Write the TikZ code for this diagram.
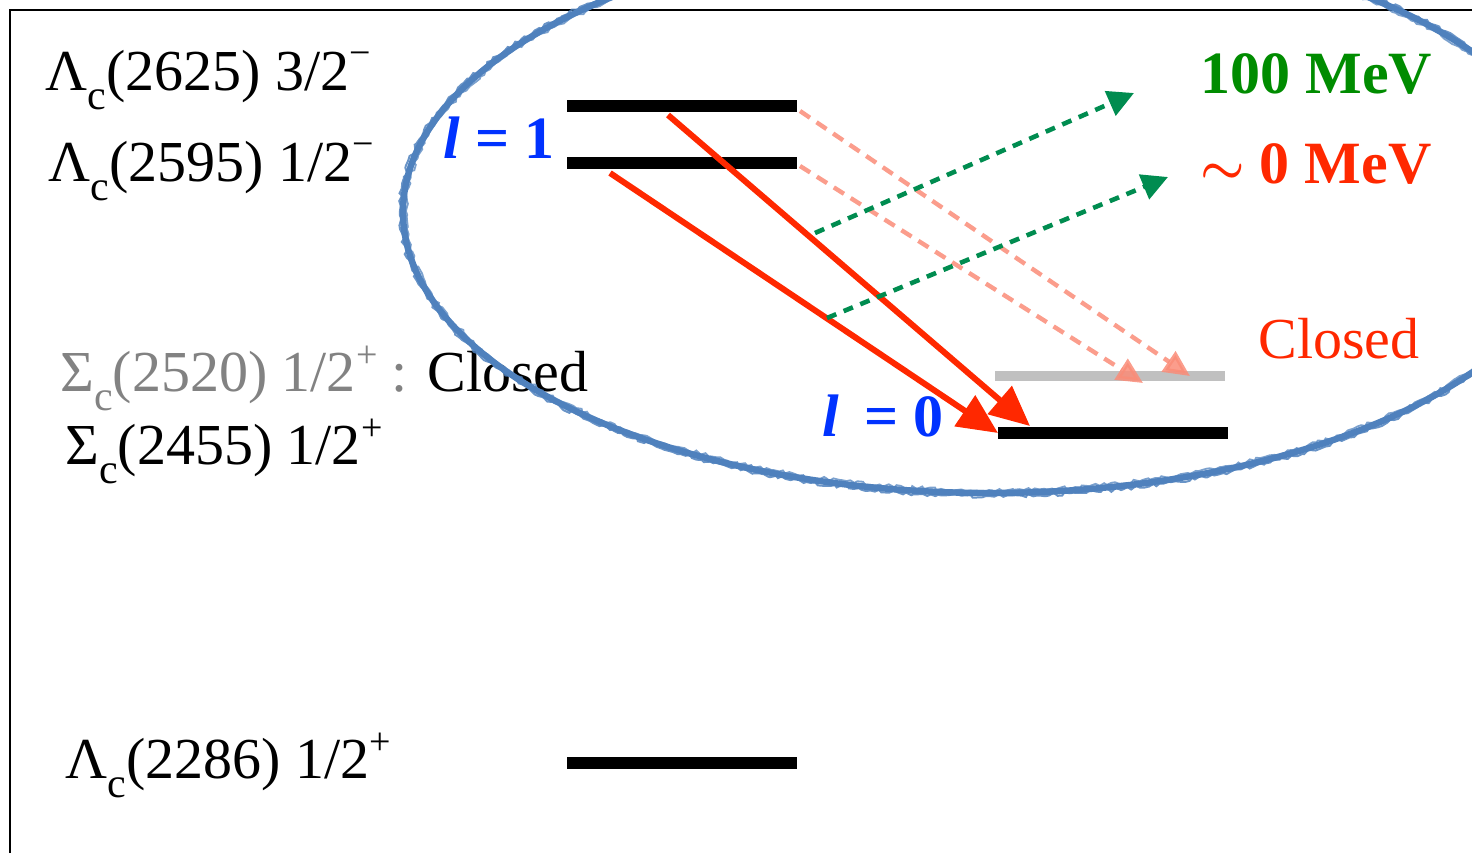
\documentclass[tikz,border=0pt]{standalone}
\usepackage{fontspec}
\usepackage{graphicx}
\setmainfont{Liberation Serif}
\usetikzlibrary{arrows.meta,decorations.pathmorphing}
\definecolor{ellblue}{RGB}{79,129,189}
\definecolor{lblue}{RGB}{0,50,255}
\definecolor{mgreen}{RGB}{0,140,0}
\definecolor{agreen}{RGB}{0,140,80}
\definecolor{lred}{RGB}{255,40,0}
\definecolor{salmon}{RGB}{250,140,120}
\definecolor{lgray}{RGB}{130,130,130}
\definecolor{bgray}{RGB}{192,192,192}
\newcommand{\csub}{\raisebox{-0.33em}{\fontsize{21}{21}\selectfont c}}
\newcommand{\supm}{\raisebox{0.42em}{\fontsize{19}{19}\selectfont −}}
\newcommand{\supp}{\raisebox{0.40em}{\fontsize{19}{19}\selectfont +}}
\tikzset{
  lab/.style={anchor=base west, inner sep=0pt, font=\rmfamily\fontsize{29}{31}\selectfont},
  big/.style={anchor=base west, inner sep=0pt, font=\rmfamily\fontsize{30}{33}\selectfont\bfseries},
  level/.style={line width=6pt},
  redarrow/.style={lred, line width=3pt, -{Triangle[length=20pt,width=18pt]}},
  salarrow/.style={salmon, opacity=0.85, line width=2.2pt, dash pattern=on 6pt off 4pt, -{Triangle[length=13pt,width=12pt]}},
  grnarrow/.style={agreen, line width=2.3pt, dash pattern=on 5pt off 4pt, -{Triangle[length=13pt,width=13pt]}},
  chalk/.style={ellblue, decorate, decoration={random steps, segment length=2pt, amplitude=0.9pt}}
}
\begin{document}
\begin{tikzpicture}[x=0.5pt,y=-0.5pt]
\useasboundingbox (0,0) rectangle (1472,853);
% frame
\coordinate (fbl) at (10,853);
\coordinate (ftl) at (10,10);
\coordinate (ftr) at (1472,10);
\draw[line width=1pt] (fbl) -- (ftl) -- (ftr);

% levels
\coordinate (a1) at (567,106); \coordinate (a2) at (797,106);
\coordinate (b1) at (567,163); \coordinate (b2) at (797,163);
\coordinate (c1) at (567,763); \coordinate (c2) at (797,763);
\coordinate (d1) at (998,433); \coordinate (d2) at (1228,433);
\coordinate (g1) at (995,376); \coordinate (g2) at (1225,376);
\draw[level] (a1) -- (a2);
\draw[level] (b1) -- (b2);
\draw[level] (c1) -- (c2);
\draw[level] (d1) -- (d2);
\draw[bgray, line width=5pt] (g1) -- (g2);

% labels
\node[lab] (t2625) at (45,90) {Λ\csub(2625) 3/2\supm};
\node[lab] (t2595) at (48,181) {Λ\csub(2595) 1/2\supm};
\node[lab] (t2520) at (60,391) {\textcolor{lgray}{Σ\csub(2520) 1/2\supp\ :} Closed};
\node[lab] (t2455) at (65,464) {Σ\csub(2455) 1/2\supp};
\node[lab] (t2286) at (65,778) {Λ\csub(2286) 1/2\supp};

\node[big, text=lblue] (l1) at (443,158) {\textit{l} = 1};
\node[big, text=lblue] (l0) at (822,436) {\textit{l}\, = 0};
\node[big, text=mgreen] (m100) at (1200,93) {100 MeV};
\node[big, text=lred] (m0) at (1200,183) {{\boldmath$\sim$} 0 MeV};
\node[lab, text=lred, font=\rmfamily\fontsize{29}{32}\selectfont] (cl) at (1258,358) {Closed};

% arrows
\coordinate (r1s) at (668,115); \coordinate (r1e) at (1030,426);
\coordinate (r2s) at (610,173); \coordinate (r2e) at (998,433);
\draw[redarrow] (r1s) -- (r1e);
\draw[redarrow] (r2s) -- (r2e);

\coordinate (s1s) at (800,111); \coordinate (s1e) at (1190,376);
\coordinate (s2s) at (800,166); \coordinate (s2e) at (1143,383);
\draw[salarrow] (s1s) -- (s1e);
\draw[salarrow] (s2s) -- (s2e);

\coordinate (q1s) at (815,233); \coordinate (q1e) at (1134,93);
\coordinate (q2s) at (827,318); \coordinate (q2e) at (1168,177);
\draw[grnarrow] (q1s) -- (q1e);
\draw[grnarrow] (q2s) -- (q2e);

% hand-drawn ellipse
\begin{scope}
\clip (0,0) rectangle (1472,853);
\coordinate (ec) at (990,212);
\pgfmathsetseed{7}
\draw[ellblue, line width=3.2pt] (ec) ellipse [x radius=587, y radius=281];
\draw[chalk, line width=1pt, opacity=0.85] (ec) ellipse [x radius=590, y radius=284];
\draw[chalk, line width=0.9pt, opacity=0.75] (ec) ellipse [x radius=584, y radius=278];
\draw[chalk, line width=0.6pt, opacity=0.6] (ec) ellipse [x radius=587, y radius=281];
\end{scope}
\end{tikzpicture}
\end{document}
